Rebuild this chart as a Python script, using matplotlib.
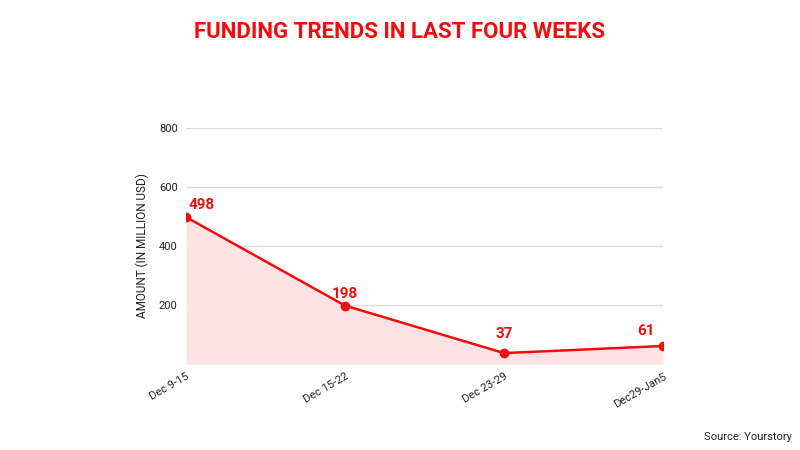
import matplotlib
matplotlib.use('Agg')
import matplotlib.pyplot as plt

weeks = ['Dec 9-15', 'Dec 15-22', 'Dec 23-29', 'Dec29-Jan5']
amounts = [498, 198, 37, 61]
yticks = [200, 400, 600, 800]

RED = '#f20d0d'

plt.rcParams['font.family'] = ['Roboto', 'DejaVu Sans']

fig = plt.figure(figsize=(8, 4.5), dpi=100)
ax = fig.add_axes([0.2325, 0.1911, 0.5963, 0.5245])

x = range(len(weeks))
ax.fill_between(x, amounts, 0, color='#fde3e3', linewidth=0)
ax.plot(x, amounts, color=RED, linewidth=1.8, marker='o', markersize=6)

# value labels
offsets = [(2, 4, 'left'), (0, 3, 'center'), (0, 9, 'center'), (-6, 6, 'right')]
for i, (v, (dx, dy, ha)) in enumerate(zip(amounts, offsets)):
    ax.annotate(str(v), (i, v), xytext=(dx, dy), textcoords='offset points',
                ha=ha, va='bottom', color=RED, fontsize=11, fontweight='bold')

ax.set_xlim(0, len(weeks) - 1)
ax.set_ylim(0, 800)
ax.set_yticks(yticks)
ax.set_xticks(list(x))
ax.set_xticklabels(weeks, rotation=30, ha='right', rotation_mode='anchor')
ax.tick_params(axis='both', length=0, labelsize=8, colors='#222222')
ax.tick_params(axis='x', pad=5)
ax.tick_params(axis='y', pad=6)
ax.grid(axis='y', color='#dddddd', linewidth=1)
ax.set_axisbelow(True)
for s in ax.spines.values():
    s.set_visible(False)

ax.set_ylabel('AMOUNT (IN MILLION USD)', fontsize=8.5, color='#222222', labelpad=7)

fig.text(0.5, 0.93, 'FUNDING TRENDS IN LAST FOUR WEEKS', ha='center', va='center',
         color=RED, fontsize=16, fontweight='bold')
fig.text(0.99, 0.03, 'Source: Yourstory', ha='right', va='center', fontsize=8, color='#222222')

fig.savefig('out.png', dpi=100)
